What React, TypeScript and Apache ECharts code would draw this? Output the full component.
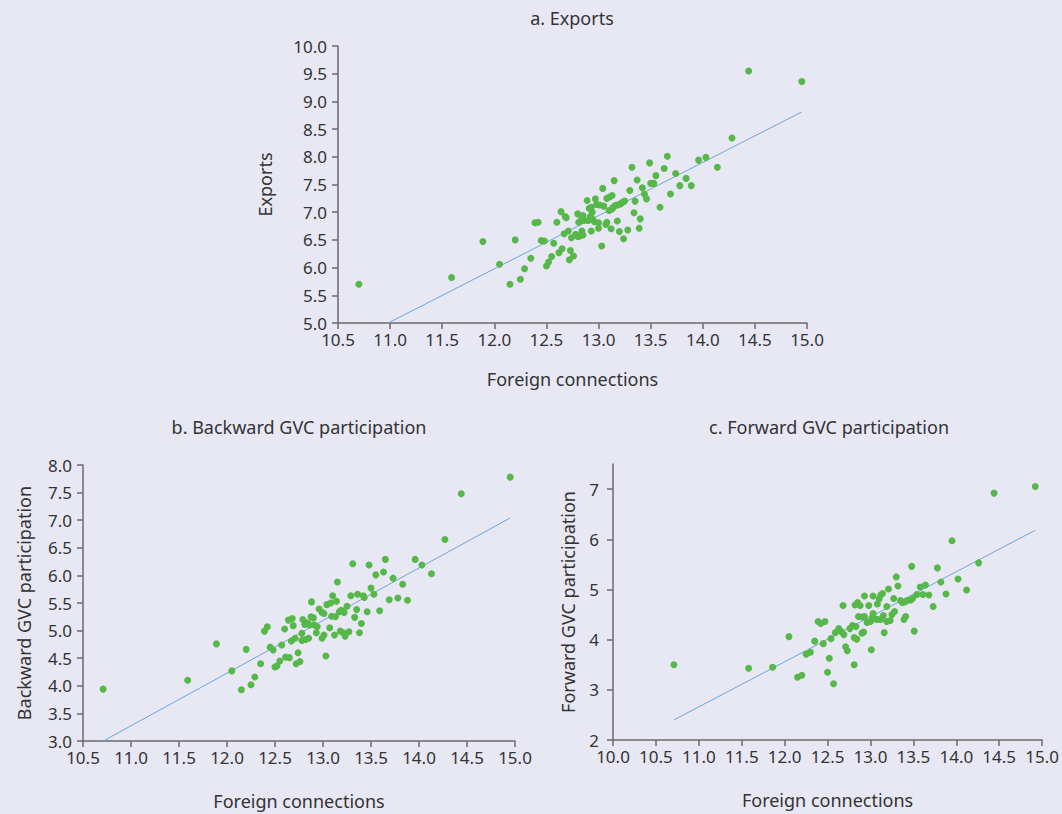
import React, { useEffect, useRef } from "react";
import * as echarts from "echarts";

// ---------- data ----------
const exportsPoints: [number, number][] = [
  [10.70, 5.70], [11.59, 5.82], [11.89, 6.47], [12.05, 6.06], [12.20, 6.50], [12.15, 5.70], [12.25, 5.79],
  [12.29, 5.98], [12.35, 6.17], [12.39, 6.81], [12.42, 6.82], [12.45, 6.49], [12.48, 6.48], [12.57, 6.44],
  [12.50, 6.03], [12.52, 6.10], [12.55, 6.20], [12.60, 6.82], [12.64, 7.01], [12.68, 6.92], [12.69, 6.90],
  [12.67, 6.61], [12.71, 6.66], [12.62, 6.27], [12.65, 6.34], [12.73, 6.31], [12.72, 6.14], [12.76, 6.21],
  [12.74, 6.54], [12.78, 6.60], [12.80, 6.56], [12.80, 6.97], [12.81, 6.82], [12.84, 6.89], [12.85, 6.94],
  [12.86, 6.85], [12.90, 6.85], [12.92, 6.92], [12.94, 6.88], [12.94, 7.00], [12.96, 6.83], [13.00, 6.81],
  [12.98, 7.14], [13.01, 7.13], [13.05, 7.11], [12.82, 6.57], [12.84, 6.66], [12.85, 6.59], [12.89, 7.21],
  [12.91, 7.07], [12.93, 7.09], [12.97, 7.24], [12.93, 6.66], [13.00, 6.71], [13.03, 6.39], [13.04, 7.43],
  [13.07, 6.78], [13.08, 6.82], [13.08, 7.25], [13.11, 7.28], [13.13, 7.30], [13.10, 7.03], [13.13, 7.06],
  [13.14, 7.09], [13.16, 7.12], [13.18, 7.13], [13.21, 7.15], [13.23, 7.18], [13.25, 7.20], [13.12, 6.70],
  [13.15, 7.57], [13.18, 6.84], [13.20, 6.65], [13.24, 6.52], [13.28, 6.68], [13.30, 7.39], [13.32, 7.81],
  [13.34, 6.99], [13.35, 7.20], [13.37, 7.58], [13.39, 6.71], [13.40, 6.88], [13.42, 7.44], [13.44, 7.33],
  [13.46, 7.24], [13.49, 7.89], [13.50, 7.52], [13.53, 7.52], [13.55, 7.66], [13.59, 7.09], [13.63, 7.79],
  [13.66, 8.01], [13.69, 7.33], [13.74, 7.70], [13.78, 7.48], [13.84, 7.61], [13.89, 7.48], [13.96, 7.94],
  [14.03, 7.99], [14.14, 7.81], [14.28, 8.34], [14.44, 9.55], [14.95, 9.36],
];
const exportsFit: [number, number][] = [[10.70, 4.73], [14.95, 8.81]];

const backwardPoints: [number, number][] = [
  [10.71, 3.94], [11.59, 4.10], [11.89, 4.76], [12.05, 4.27], [12.15, 3.93], [12.25, 4.02], [12.29, 4.16],
  [12.20, 4.66], [12.35, 4.40], [12.39, 4.99], [12.42, 5.07], [12.45, 4.70], [12.48, 4.65], [12.50, 4.34],
  [12.52, 4.36], [12.55, 4.45], [12.57, 4.74], [12.60, 5.03], [12.61, 4.52], [12.65, 4.51], [12.64, 5.19],
  [12.68, 5.22], [12.69, 5.09], [12.67, 4.81], [12.71, 4.86], [12.74, 4.60], [12.72, 4.40], [12.76, 4.44],
  [12.78, 4.95], [12.79, 5.20], [12.78, 4.82], [12.82, 4.84], [12.85, 4.86], [12.81, 5.11], [12.84, 5.14],
  [12.86, 5.10], [12.88, 5.52], [12.875, 5.25], [12.90, 5.23], [12.91, 5.10], [12.94, 5.07], [12.93, 4.96],
  [12.96, 5.39], [12.99, 5.33], [13.01, 5.31], [12.99, 4.86], [13.01, 4.92], [13.03, 4.54], [13.04, 5.47],
  [13.08, 5.50], [13.07, 5.05], [13.09, 5.26], [13.13, 5.25], [13.14, 5.53], [13.10, 5.63], [13.12, 4.92],
  [13.15, 5.88], [13.17, 5.34], [13.19, 5.37], [13.22, 5.33], [13.18, 4.99], [13.21, 4.96], [13.23, 4.90],
  [13.27, 4.98], [13.25, 5.44], [13.29, 5.63], [13.31, 6.21], [13.33, 5.24], [13.35, 5.38], [13.36, 5.66],
  [13.38, 4.96], [13.40, 5.13], [13.42, 5.63], [13.43, 5.60], [13.46, 5.34], [13.48, 6.19], [13.50, 5.77],
  [13.53, 5.66], [13.55, 6.01], [13.59, 5.36], [13.63, 6.06], [13.65, 6.29], [13.69, 5.56], [13.73, 5.95],
  [13.78, 5.59], [13.83, 5.84], [13.88, 5.55], [13.96, 6.29], [14.03, 6.19], [14.13, 6.03], [14.27, 6.65],
  [14.44, 7.48], [14.95, 7.78],
];
const backwardFit: [number, number][] = [[10.70, 2.99], [14.95, 7.04]];

const forwardPoints: [number, number][] = [
  [10.71, 3.50], [11.58, 3.43], [11.86, 3.45], [12.05, 4.06], [12.15, 3.25], [12.20, 3.29], [12.25, 3.71],
  [12.30, 3.75], [12.35, 3.97], [12.39, 4.36], [12.42, 4.32], [12.47, 4.36], [12.45, 3.92], [12.50, 3.35],
  [12.52, 3.63], [12.54, 4.02], [12.57, 3.12], [12.59, 4.14], [12.63, 4.22], [12.66, 4.16], [12.68, 4.68],
  [12.69, 4.10], [12.71, 3.86], [12.73, 3.78], [12.76, 4.22], [12.79, 4.28], [12.81, 4.04], [12.84, 4.01],
  [12.81, 3.50], [12.82, 4.69], [12.85, 4.74], [12.88, 4.68], [12.83, 4.26], [12.86, 4.46], [12.90, 4.45],
  [12.93, 4.46], [12.90, 4.13], [12.92, 4.15], [12.93, 4.87], [12.96, 4.34], [13.00, 4.36], [13.02, 4.44],
  [12.98, 4.68], [13.01, 3.80], [13.03, 4.52], [13.06, 4.41], [13.08, 4.40], [13.03, 4.87], [13.08, 4.71],
  [13.10, 4.81], [13.12, 4.89], [13.14, 4.92], [13.12, 4.40], [13.15, 4.48], [13.16, 4.14], [13.19, 4.66],
  [13.21, 5.01], [13.19, 4.36], [13.23, 4.38], [13.25, 4.50], [13.28, 4.56], [13.27, 4.82], [13.30, 5.25],
  [13.32, 5.07], [13.35, 4.78], [13.37, 4.74], [13.40, 4.75], [13.43, 4.78], [13.47, 4.79], [13.49, 4.82],
  [13.39, 4.40], [13.41, 4.46], [13.48, 5.46], [13.51, 4.17], [13.54, 4.90], [13.58, 5.05], [13.61, 4.90],
  [13.64, 5.09], [13.68, 4.89], [13.73, 4.66], [13.78, 5.43], [13.82, 5.15], [13.88, 4.91], [13.95, 5.97],
  [14.02, 5.21], [14.12, 4.99], [14.26, 5.53], [14.44, 6.92], [14.92, 7.05],
];
const forwardFit: [number, number][] = [[10.71, 2.40], [14.92, 6.18]];

const panelTitles = ["a. Exports", "b. Backward GVC participation", "c. Forward GVC participation"];
const yAxisNames = ["Exports", "Backward GVC participation", "Forward GVC participation"];
const xAxisName = "Foreign connections";
const forwardYTicks = [2, 3, 4, 5, 6, 7];

// ---------- styling ----------
const FONT = "Noto Sans";
const TEXT = "#333333";
const AXIS = "#6b6b6b";
const GREEN = "#55b848";
const BLUE = "#6ba5de";
const BG = "#e8e8f4";

const fmt1 = (v: number) => v.toFixed(1);

function axisBase(extra: any) {
  return {
    type: "value",
    splitLine: { show: false },
    axisLine: { show: true, onZero: false, lineStyle: { color: AXIS, width: 1.5 } },
    axisTick: { show: true, inside: false, length: 6, lineStyle: { color: AXIS, width: 1.5 } },
    axisLabel: { color: TEXT, fontSize: 17, fontFamily: FONT },
    nameLocation: "middle",
    nameTextStyle: { color: TEXT, fontSize: 18, fontFamily: FONT },
    ...extra,
  };
}

const xLabel = { color: TEXT, fontSize: 17, fontFamily: FONT, formatter: fmt1, margin: 9, lineHeight: 15 };
const yLabel = { color: TEXT, fontSize: 17, fontFamily: FONT, formatter: fmt1, margin: 11, lineHeight: 15 };

export default function App() {
  const ref = useRef<HTMLDivElement>(null);
  useEffect(() => {
    if (!ref.current) return;
    const chart = echarts.init(ref.current, null, { renderer: "svg" });
    const option: any = {
      animation: false,
      backgroundColor: BG,
      grid: [
        { left: 338, top: 46, width: 469, height: 277 },
        { left: 83, top: 465, width: 432, height: 276 },
        { left: 613, top: 464, width: 432, height: 276 },
      ],
      xAxis: [
        axisBase({ gridIndex: 0, min: 10.5, max: 15, interval: 0.5, name: xAxisName, nameGap: 47, axisLabel: xLabel }),
        axisBase({ gridIndex: 1, min: 10.5, max: 15, interval: 0.5, name: xAxisName, nameGap: 51, axisLabel: xLabel }),
        axisBase({ gridIndex: 2, min: 10, max: 15, interval: 0.5, name: xAxisName, nameGap: 51, axisLabel: xLabel }),
      ],
      yAxis: [
        axisBase({ gridIndex: 0, min: 5, max: 10, interval: 0.5, name: yAxisNames[0], nameGap: 64, axisLabel: yLabel }),
        axisBase({ gridIndex: 1, min: 3, max: 8, interval: 0.5, name: yAxisNames[1], nameGap: 50, axisLabel: yLabel }),
        axisBase({ gridIndex: 2, min: 2, max: 7.5, interval: 1, name: yAxisNames[2], nameGap: 36,
          axisTick: { show: true, length: 6, customValues: forwardYTicks, lineStyle: { color: AXIS, width: 1.5 } },
          axisLabel: { color: TEXT, fontSize: 17, fontFamily: FONT, margin: 14, lineHeight: 15, customValues: forwardYTicks } }),
      ],
      graphic: [
        { type: "text", x: 572, y: 18, style: { text: panelTitles[0], align: "center", verticalAlign: "middle", fontSize: 18, fontFamily: FONT, fill: TEXT } },
        { type: "text", x: 299, y: 427, style: { text: panelTitles[1], align: "center", verticalAlign: "middle", fontSize: 18, fontFamily: FONT, fill: TEXT } },
        { type: "text", x: 829, y: 427, style: { text: panelTitles[2], align: "center", verticalAlign: "middle", fontSize: 18, fontFamily: FONT, fill: TEXT } },
      ],
      series: [
        { type: "line", xAxisIndex: 0, yAxisIndex: 0, data: exportsFit, symbol: "none", clip: true, lineStyle: { color: BLUE, width: 1 }, z: 1 },
        { type: "scatter", xAxisIndex: 0, yAxisIndex: 0, data: exportsPoints, symbolSize: 7, itemStyle: { color: GREEN, opacity: 1 }, z: 2 },
        { type: "line", xAxisIndex: 1, yAxisIndex: 1, data: backwardFit, symbol: "none", clip: true, lineStyle: { color: BLUE, width: 1 }, z: 1 },
        { type: "scatter", xAxisIndex: 1, yAxisIndex: 1, data: backwardPoints, symbolSize: 7, itemStyle: { color: GREEN, opacity: 1 }, z: 2 },
        { type: "line", xAxisIndex: 2, yAxisIndex: 2, data: forwardFit, symbol: "none", clip: true, lineStyle: { color: BLUE, width: 1 }, z: 1 },
        { type: "scatter", xAxisIndex: 2, yAxisIndex: 2, data: forwardPoints, symbolSize: 7, itemStyle: { color: GREEN, opacity: 1 }, z: 2 },
      ],
    };
    chart.setOption(option);
    return () => chart.dispose();
  }, []);
  return (
    <div
      ref={ref}
      style={{ position: "fixed", left: 0, top: 0, width: 1062, height: 814 }}
    />
  );
}
